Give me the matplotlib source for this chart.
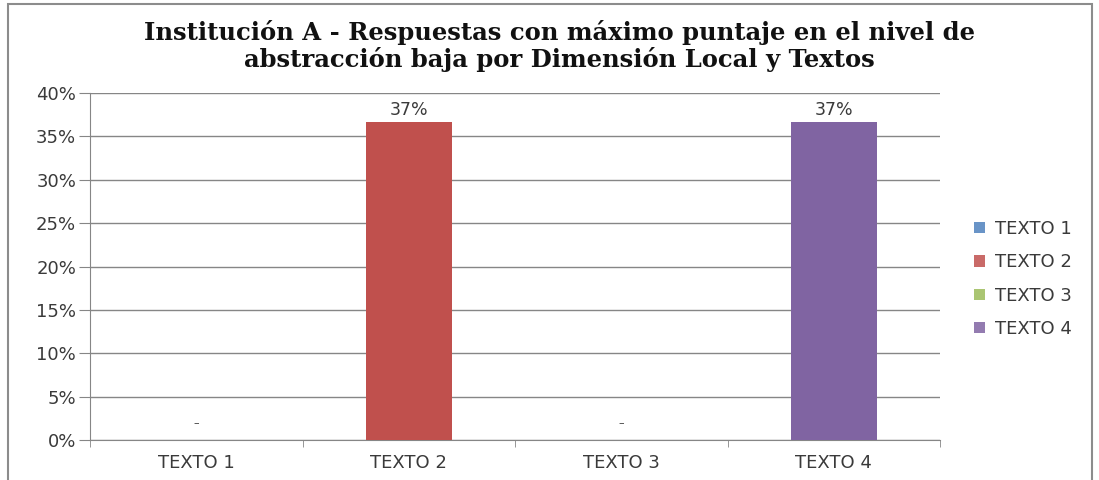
import matplotlib
matplotlib.use("Agg")
import matplotlib.pyplot as plt
from matplotlib.patches import Rectangle, Patch

categories = ["TEXTO 1", "TEXTO 2", "TEXTO 3", "TEXTO 4"]
values = [0.0, 0.3667, 0.0, 0.3667]
labels = ["-", "37%", "-", "37%"]
colors = ["#4F81BD", "#C0504D", "#9BBB59", "#8064A2"]
yticks = [0, 0.05, 0.10, 0.15, 0.20, 0.25, 0.30, 0.35, 0.40]
ytick_labels = ["0%", "5%", "10%", "15%", "20%", "25%", "30%", "35%", "40%"]

W, H = 1099, 480
fig = plt.figure(figsize=(W / 100, H / 100), dpi=100)
fig.patch.set_facecolor("white")

FONT = "DejaVu Sans"
TXT = "#3a3a3a"

# outer chart frame
fig.add_artist(Rectangle((8 / W, -0.05), (1092 - 8) / W, 1.05 - 4 / H,
                         transform=fig.transFigure, fill=False,
                         edgecolor="#8c8c8c", linewidth=1.5))

left, right, top, bottom = 90, 940, 93, 440
ax = fig.add_axes([left / W, 1 - bottom / H, (right - left) / W, (bottom - top) / H])

x = list(range(len(categories)))
ax.bar(x, values, width=0.405, color=colors, zorder=3)
for xi, v, lab in zip(x, values, labels):
    if v > 0:
        ax.text(xi, v + 0.0035, lab, ha="center", va="bottom", fontsize=12.5,
                family=FONT, color=TXT)
    else:
        ax.text(xi, 0.019, "–", ha="center", va="center", fontsize=8,
                family=FONT, color=TXT)

ax.set_xlim(-0.5, 3.5)
ax.set_ylim(0, 0.40)
ax.set_yticks(yticks)
ax.set_yticklabels(ytick_labels, family=FONT, fontsize=13, color=TXT)
ax.set_xticks(x)
ax.set_xticklabels(categories, family=FONT, fontsize=13, color=TXT)
ax.set_xticks([-0.5, 0.5, 1.5, 2.5, 3.5], minor=True)
ax.tick_params(axis="x", which="major", length=0, pad=10)
ax.tick_params(axis="x", which="minor", length=5, color="#868686")
ax.tick_params(axis="y", length=8, color="#868686", pad=2)
ax.yaxis.grid(True, color="#868686", linewidth=1.0, zorder=0)
for s in ["top", "right"]:
    ax.spines[s].set_visible(False)
ax.spines["left"].set_color("#868686")
ax.spines["bottom"].set_color("#868686")

handles = [Patch(facecolor=c, edgecolor="none", alpha=0.85) for c in colors]
leg = fig.legend(handles, categories, loc="center left",
                 bbox_to_anchor=(967 / W, 1 - 279 / H), frameon=False,
                 prop={"family": FONT, "size": 13},
                 handlelength=0.6, handleheight=0.6, handletextpad=0.55,
                 labelspacing=0.85, borderaxespad=0)
for t in leg.get_texts():
    t.set_color(TXT)

fig.text(559 / W, 1 - 46 / H,
         "Institución A - Respuestas con máximo puntaje en el nivel de\nabstracción baja por Dimensión Local y Textos",
         ha="center", va="center", family="DejaVu Serif", fontweight="bold",
         fontsize=17.5, linespacing=1.1, color="#111111")

fig.savefig("out.png", dpi=100, facecolor="white")
